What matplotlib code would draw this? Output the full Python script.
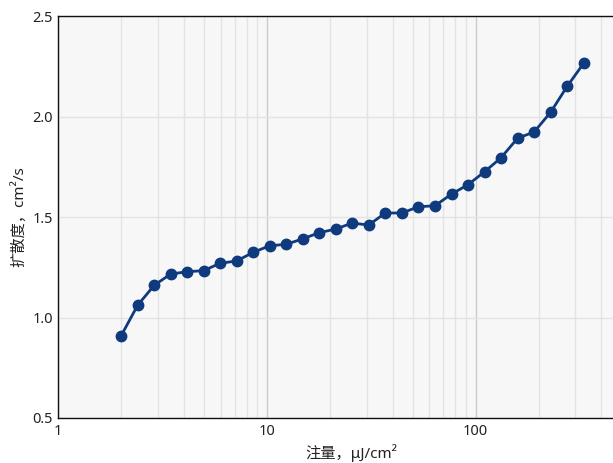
import matplotlib
matplotlib.use('Agg')
import matplotlib.pyplot as plt
from matplotlib.ticker import FixedLocator, NullFormatter

plt.rcParams['font.family'] = ['Noto Sans', 'Noto Sans CJK SC', 'DejaVu Sans']

# 注量 (μJ/cm²) et diffusivité
fluence = [2.0, 2.4, 2.88, 3.45, 4.15, 4.97, 5.96, 7.15, 8.58, 10.3,
           12.35, 14.8, 17.8, 21.35, 25.6, 30.7, 36.9, 44.3, 53.2, 63.8,
           76.6, 91.9, 110.3, 132.3, 158.8, 190.5, 228.6, 274.3, 329.2]
diffusivity = [0.909, 1.061, 1.160, 1.216, 1.228, 1.233, 1.270, 1.281, 1.324, 1.357,
               1.364, 1.391, 1.422, 1.440, 1.470, 1.460, 1.520, 1.520, 1.551, 1.556,
               1.614, 1.661, 1.725, 1.795, 1.892, 1.923, 2.021, 2.150, 2.265]

x_ticks = [1, 10, 100]
x_tick_labels = ['1', '10', '100']
y_ticks = [0.5, 1.0, 1.5, 2.0, 2.5]
y_tick_labels = ['0.5', '1.0', '1.5', '2.0', '2.5']

fig = plt.figure(figsize=(6.13, 4.63), dpi=100)
ax = fig.add_axes([0.0951, 0.0972, 0.9049, 0.8682])
ax.set_facecolor('#f7f7f7')

ax.set_xscale('log')
ax.set_xlim(1, 455)
ax.set_ylim(0.5, 2.5)

ax.xaxis.set_major_locator(FixedLocator(x_ticks))
ax.set_xticklabels(x_tick_labels)
minor = [m * d for d in (1, 10, 100) for m in range(2, 10)]
ax.xaxis.set_minor_locator(FixedLocator(minor))
ax.xaxis.set_minor_formatter(NullFormatter())
ax.set_yticks(y_ticks)
ax.set_yticklabels(y_tick_labels)

ax.grid(True, which='minor', axis='x', color='#e3e3e3', linewidth=1.0)
ax.grid(True, which='major', axis='x', color='#cbcbcb', linewidth=1.0)
ax.grid(True, which='major', axis='y', color='#e3e3e3', linewidth=1.0)
ax.set_axisbelow(True)

ax.tick_params(axis='both', which='both', length=0, labelsize=10.5, colors='#222222', pad=4)
ax.tick_params(axis='x', pad=4)

ax.spines['right'].set_visible(False)
for s in ('left', 'bottom', 'top'):
    ax.spines[s].set_color('#111111')
    ax.spines[s].set_linewidth(1.0)

ax.plot(fluence, diffusivity, color='#0f3a7d', linewidth=2.0,
        marker='o', markersize=7.5, zorder=3, clip_on=False)

ax.set_xlabel('注量，μJ/cm²', fontsize=11, color='#222222')
ax.set_ylabel('扩散度，cm²/s', fontsize=11, color='#222222')
ax.xaxis.set_label_coords(0.528, -0.064)
ax.yaxis.set_label_coords(-0.056, 0.5)

fig.savefig('out.png', dpi=100)
